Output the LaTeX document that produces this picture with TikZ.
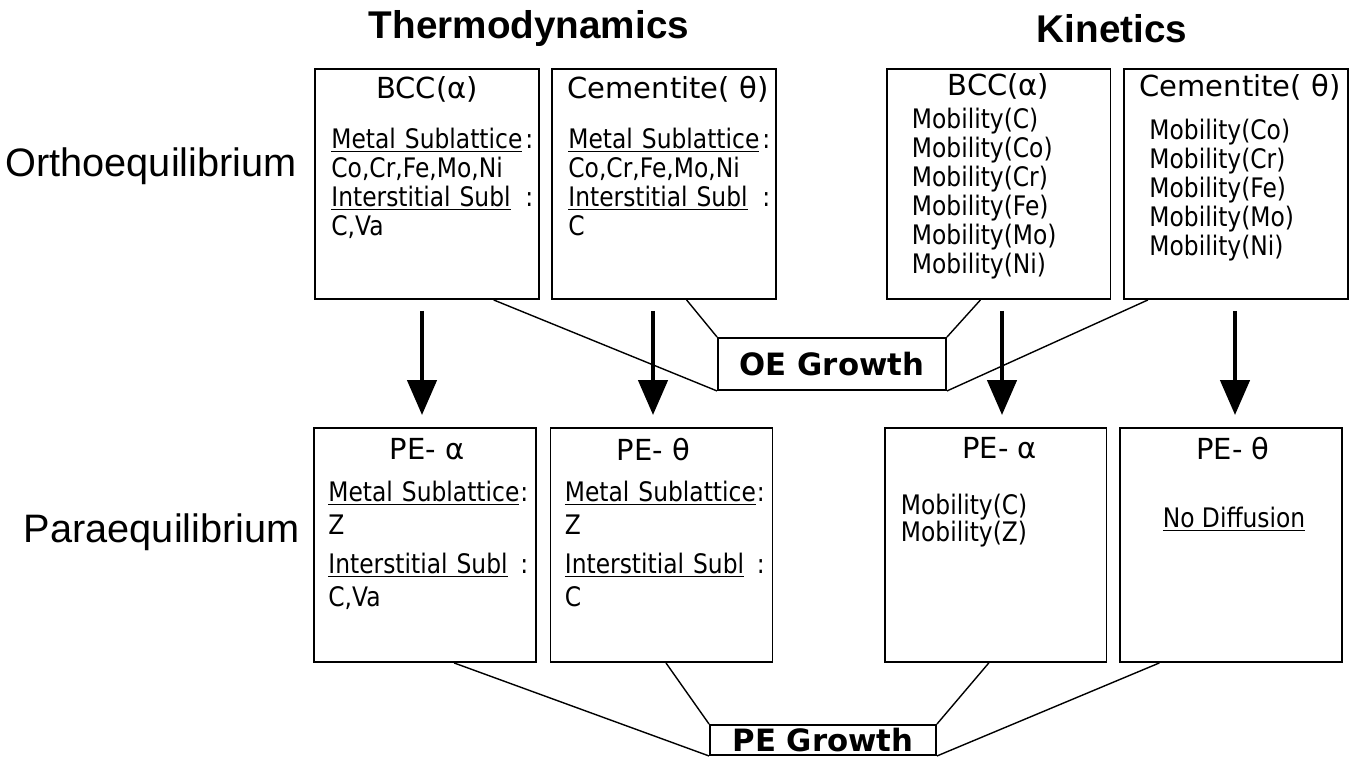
\documentclass[tikz,border=0pt]{standalone}
\usepackage{fontspec}
\setmainfont{DejaVu Sans}
\newfontfamily\bodyfont{DejaVu Sans}[FakeStretch=0.87]
\newfontfamily\helv{Liberation Sans}
\usetikzlibrary{arrows.meta,calc}

\tikzstyle{phasebox} = [rectangle, draw=black, line width=1.1pt, minimum width=4.48cm, minimum height=4.6cm, inner sep=0pt]
\tikzstyle{growth} = [rectangle, draw=black, line width=1.1pt, minimum width=4.56cm, minimum height=1.04cm, inner sep=0.5pt, font=\bfseries\fontsize{17.5}{20}\selectfont]
\tikzstyle{phasehead} = [font=\fontsize{16.5}{19}\selectfont]
\tikzstyle{entries} = [anchor=north west, inner sep=0pt, align=left, font=\bodyfont\fontsize{15.3}{16.5}\selectfont]
\tikzstyle{title} = [font=\helv\bfseries\fontsize{22}{26}\selectfont]
\tikzstyle{rowlabel} = [anchor=east, font=\helv\fontsize{22.6}{26}\selectfont]
\tikzstyle{bigarrow} = [line width=2.6pt, -{Triangle[length=0.7cm,width=0.58cm]}]
\tikzstyle{link} = [line width=0.8pt]

\begin{document}
\begin{tikzpicture}[x=0.02cm, y=-0.02cm]

\useasboundingbox (0,0) rectangle (1351,757);

% column titles and row labels
\node (thermo) [title] at (529,29) {Thermodynamics};
\node (kinetics) [title] at (1112,29) {Kinetics};
\node (ortho) [rowlabel] at (303,166) {Orthoequilibrium};
\node (para) [rowlabel] at (306,532) {Paraequilibrium};

% orthoequilibrium boxes
\node (thA) [phasebox] at (427,184) {};
\node (thB) [phasebox] at (664,184) {};
\node (knA) [phasebox] at (998.5,184) {};
\node (knB) [phasebox] at (1236,184) {};

\node (thAh) [phasehead] at ($(thA.north)+(0,21)$) {BCC(α)};
\node (thAt) [entries, text width=4.04cm] at ($(thA.north west)+(17,60)$) {\underline{Metal Sublattice}\hfill:\\Co,Cr,Fe,Mo,Ni\\\underline{Interstitial Subl}\hfill:\\C,Va};
\node (thBh) [phasehead] at ($(thB.north)+(4,21)$) {Cementite( θ)};
\node (thBt) [entries, text width=4.04cm] at ($(thB.north west)+(17,60)$) {\underline{Metal Sublattice}\hfill:\\Co,Cr,Fe,Mo,Ni\\\underline{Interstitial Subl}\hfill:\\C};
\node (knAh) [phasehead] at ($(knA.north)+(0,18)$) {BCC(α)};
\node (knAt) [entries] at ($(knA.north west)+(26,40)$) {Mobility(C)\\Mobility(Co)\\Mobility(Cr)\\Mobility(Fe)\\Mobility(Mo)\\Mobility(Ni)};
\node (knBh) [phasehead] at ($(knB.north)+(4,19)$) {Cementite( θ)};
\node (knBt) [entries] at ($(knB.north west)+(26,51)$) {Mobility(Co)\\Mobility(Cr)\\Mobility(Fe)\\Mobility(Mo)\\Mobility(Ni)};

% paraequilibrium boxes
\node (peTA) [phasebox, minimum width=4.44cm, minimum height=4.68cm] at (425,545) {};
\node (peTB) [phasebox, minimum width=4.44cm, minimum height=4.68cm] at (661.5,545) {};
\node (peKA) [phasebox, minimum width=4.44cm, minimum height=4.68cm] at (995.5,545) {};
\node (peKB) [phasebox, minimum width=4.44cm, minimum height=4.68cm] at (1231,545) {};

\node (peTAh) [phasehead] at ($(peTA.north)+(2,22)$) {PE- α};
\node (peTAt) [entries, text width=4cm, font=\bodyfont\fontsize{15.3}{18.6}\selectfont] at ($(peTA.north west)+(15,54)$) {\underline{Metal Sublattice}\hfill:\\Z\\[3.5pt]\underline{Interstitial Subl}\hfill:\\C,Va};
\node (peTBh) [phasehead] at ($(peTB.north)+(-8,22)$) {PE- θ};
\node (peTBt) [entries, text width=4cm, font=\bodyfont\fontsize{15.3}{18.6}\selectfont] at ($(peTB.north west)+(15,54)$) {\underline{Metal Sublattice}\hfill:\\Z\\[3.5pt]\underline{Interstitial Subl}\hfill:\\C};
\node (peKAh) [phasehead] at ($(peKA.north)+(4,21)$) {PE- α};
\node (peKAt) [entries, font=\bodyfont\fontsize{15.3}{15}\selectfont] at ($(peKA.north west)+(17,67)$) {Mobility(C)\\Mobility(Z)};
\node (peKBh) [phasehead] at ($(peKB.north)+(2,21)$) {PE- θ};
\node (noDiff) [entries, anchor=center] at ($(peKB.north)+(3,92)$) {\underline{No Diffusion}};

% growth models
\node (oe) [growth] at (832,364) {OE Growth};
\node (pe) [growth, minimum width=4.52cm, minimum height=0.6cm] at (823,740) {PE Growth};

\draw[link] ($(thA.south west)!0.795!(thA.south east)$) -- (oe.south west);
\draw[link] ($(thB.south west)!0.6!(thB.south east)$) -- (oe.north west);
\draw[link] ($(knA.south west)!0.42!(knA.south east)$) -- (oe.north east);
\draw[link] ($(knB.south west)!0.11!(knB.south east)$) -- (oe.south east);

\draw[link] ($(peTA.south west)!0.63!(peTA.south east)$) -- (pe.south west);
\draw[link] ($(peTB.south west)!0.52!(peTB.south east)$) -- (pe.north west);
\draw[link] ($(peKA.south west)!0.47!(peKA.south east)$) -- (pe.north east);
\draw[link] ($(peKB.south west)!0.18!(peKB.south east)$) -- (pe.south east);

% ortho to para
\coordinate (a1) at ($(thA.south)+(-5,11)$);
\coordinate (a2) at ($(thB.south)+(-11,11)$);
\coordinate (a3) at ($(knA.south)+(3.5,11)$);
\coordinate (a4) at ($(knB.south)+(-1,11)$);
\draw[bigarrow] (a1) -- ($(a1 |- peTA.north)+(0,-12)$);
\draw[bigarrow] (a2) -- ($(a2 |- peTB.north)+(0,-12)$);
\draw[bigarrow] (a3) -- ($(a3 |- peKA.north)+(0,-12)$);
\draw[bigarrow] (a4) -- ($(a4 |- peKB.north)+(0,-12)$);

\end{tikzpicture}
\end{document}
